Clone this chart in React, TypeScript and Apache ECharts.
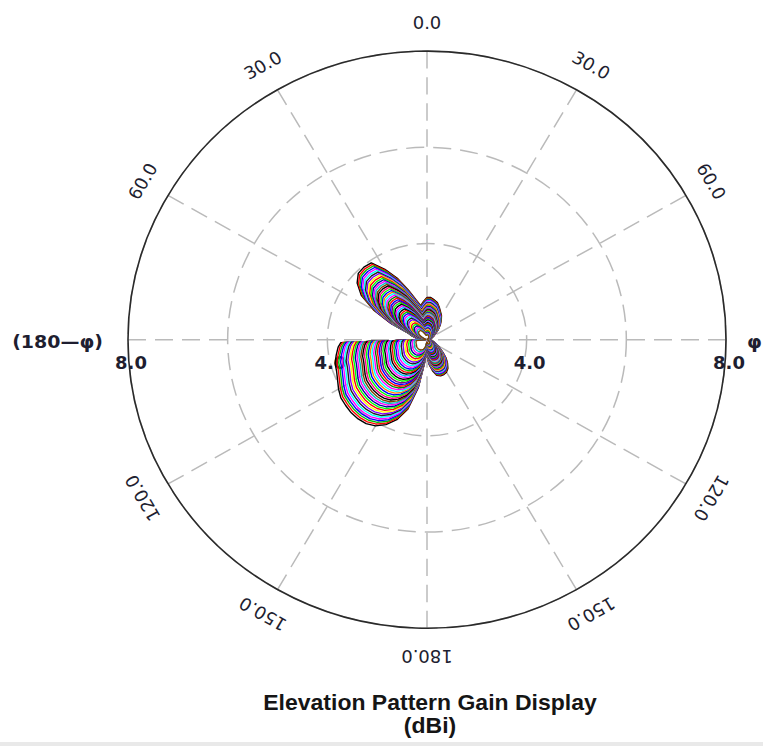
import React, { useEffect, useRef } from "react";
import * as echarts from "echarts";

// ---- data ----
const radiusMin = 2;
const radiusMax = 8;
const radiusStep = 2;
const radiusTickValues = [4, 8];
const radiusTickLabels = ["4.0", "8.0"];

const angleTickValues = [0, 30, 60, 90, 120, 150, 180, 210, 240, 270, 300, 330];
const angleTickLabels = ["0.0", "30.0", "60.0", "φ", "120.0", "150.0", "180.0", "150.0", "120.0", "(180—φ)", "60.0", "30.0"];

const titleLines = ["Elevation Pattern Gain Display", "(dBi)"];

// outermost trace (angle measured clockwise from the top, gain in dBi)
const patternAngles = [
  0, 5, 10, 15, 20, 25, 30, 35, 40, 45, 50, 60, 70, 80, 90, 100, 110, 120, 130, 135,
  140, 145, 150, 155, 160, 165, 170, 175, 180, 183, 186, 190, 195, 200, 205, 210, 215,
  220, 225, 230, 235, 240, 245, 250, 255, 260, 265, 268, 270, 275, 280, 285, 290, 295,
  300, 305, 310, 315, 320, 325, 330, 335, 340, 345, 350, 355, 360,
];
const patternGain = [
  2.88, 2.88, 2.84, 2.8, 2.72, 2.64, 2.58, 2.5, 2.42, 2.34, 2.26, 2.16, 2.1, 2.08, 2.08, 2.1, 2.16, 2.26, 2.42, 2.54,
  2.64, 2.73, 2.78, 2.8, 2.8, 2.77, 2.66, 2.52, 2.34, 2.24, 2.5, 3.02, 3.5, 3.77, 3.95, 4.07, 4.13,
  4.15, 4.15, 4.13, 4.11, 4.05, 3.98, 3.93, 3.91, 3.85, 3.79, 3.73, 2.12, 2.16, 2.24, 2.32, 2.4, 2.8,
  3.24, 3.61, 3.83, 3.95, 3.97, 3.95, 3.69, 3.41, 3.1, 2.86, 2.72, 2.8, 2.88,
];

// relative size of each nested trace (one per frequency)
const traceScales = [
  1.0, 0.98, 0.96, 0.94, 0.92, 0.9, 0.88, 0.86, 0.84, 0.82, 0.8, 0.78, 0.76, 0.74, 0.72,
  0.7, 0.68, 0.66, 0.64, 0.62, 0.6, 0.58, 0.56, 0.54, 0.52, 0.5, 0.48, 0.46, 0.44, 0.42,
  0.4, 0.38, 0.36, 0.34, 0.32, 0.3, 0.28, 0.26, 0.24, 0.22, 0.2, 0.18, 0.16, 0.14, 0.12,
];
const traceColors = [
  "#000000", "#ff0000", "#00c000", "#0000ff", "#ff00ff", "#00ffff", "#202020", "#8000ff", "#ffff00", "#ff0000",
  "#00ff00", "#0000a0", "#ff00ff", "#00c0c0", "#804000", "#000000", "#ff0080", "#00ff00", "#0000ff", "#ff8000",
  "#00ffff", "#ff00ff", "#008000", "#ff0000", "#0000ff", "#800080", "#00ff00", "#000000", "#ff00ff", "#00c0ff",
];

const SQUASH = 0.965;
const W = 763;
const H = Math.round(746 / SQUASH);
const CX = 427;
const CY = 352;
const R = 299;

export default function App() {
  const ref = useRef<HTMLDivElement>(null);
  useEffect(() => {
    if (!ref.current) return;
    const chart = echarts.init(ref.current, undefined, { renderer: "svg" });
    const gridLine = { color: "#bababa", width: 1.5, type: [18, 9] as any };
    const labelFont = { fontFamily: "DejaVu Sans", fontSize: 18, fill: "#1e1e30" };

    const traces = traceScales.map((s, k) => ({
      type: "line",
      coordinateSystem: "polar",
      name: "trace" + k,
      showSymbol: false,
      silent: true,
      z: 3,
      lineStyle: { color: traceColors[k % traceColors.length], width: 1.4 },
      data: patternAngles.map((a, i) => [radiusMin + (patternGain[i] - radiusMin) * s, a]),
    }));

    chart.setOption({
      animation: false,
      title: {
        text: titleLines.join("\n"),
        left: 425,
        top: 712,
        textAlign: "center",
        textStyle: { fontFamily: "Liberation Sans", fontWeight: "bold", fontSize: 23, lineHeight: 23, color: "#151515" },
      },
      polar: { center: [CX, CY], radius: R },
      angleAxis: {
        type: "value",
        min: 0,
        max: 360,
        interval: 30,
        startAngle: 90,
        clockwise: true,
        z: 1,
        axisLine: { show: true, lineStyle: { color: "#2a2a2a", width: 1.6 } },
        axisTick: { show: false },
        axisLabel: { show: false },
        splitLine: { show: true, lineStyle: gridLine },
      },
      radiusAxis: {
        type: "value",
        min: radiusMin,
        max: radiusMax,
        interval: radiusStep,
        z: 0,
        axisLine: { show: false },
        axisTick: { show: false },
        axisLabel: { show: false },
        splitLine: { show: true, lineStyle: gridLine },
      },
      graphic: [
        { type: "rect", shape: { x: 0, y: 769, width: W, height: 5 }, style: { fill: "#e9e9e9" }, silent: true },
      ],
      series: [
        {
          type: "custom",
          coordinateSystem: "polar",
          silent: true,
          z: 2,
          data: angleTickValues.map((a) => [radiusMax, a]),
          renderItem: (params: any, api: any) => {
            const i = params.dataIndex;
            const a = angleTickValues[i];
            const p = api.coord([radiusMax, a]);
            const c = api.coord([radiusMin, a]);
            const dx = p[0] - c[0];
            const dy = p[1] - c[1];
            const len = Math.sqrt(dx * dx + dy * dy) || 1;
            const ux = dx / len;
            const uy = dy / len;
            if (a === 90 || a === 270) {
              return {
                type: "text",
                x: p[0] + ux * (a === 90 ? 21 : 25),
                y: p[1] + 2,
                style: {
                  text: angleTickLabels[i],
                  fontFamily: "DejaVu Sans",
                  fontWeight: "bold",
                  fontSize: 19,
                  fill: "#1e1e30",
                  align: a === 90 ? "left" : "right",
                  verticalAlign: "middle",
                },
              };
            }
            return {
              type: "text",
              x: p[0] + ux * 29,
              y: p[1] + uy * 29,
              rotation: (-a * Math.PI) / 180,
              style: { text: angleTickLabels[i], ...labelFont, align: "center", verticalAlign: "middle" },
            };
          },
        },
        {
          type: "custom",
          coordinateSystem: "polar",
          silent: true,
          z: 2,
          data: [
            ...radiusTickValues.map((v) => [v, 90]),
            ...radiusTickValues.map((v) => [v, 270]),
          ],
          renderItem: (params: any, api: any) => {
            const i = params.dataIndex;
            const p = api.coord([api.value(0), api.value(1)]);
            return {
              type: "text",
              x: p[0] + 3,
              y: p[1] + 24,
              style: {
                text: radiusTickLabels[i % radiusTickLabels.length],
                fontFamily: "DejaVu Sans",
                fontWeight: "bold",
                fontSize: 18,
                fill: "#1e1e30",
                align: "center",
                verticalAlign: "middle",
              },
            };
          },
        },
        ...traces,
      ],
    });
    return () => chart.dispose();
  }, []);
  return (
    <div
      ref={ref}
      style={{
        position: "fixed",
        left: 0,
        top: 0,
        width: W,
        height: H,
        transform: `scaleY(${SQUASH})`,
        transformOrigin: "0 0",
        background: "#fff",
      }}
    />
  );
}
